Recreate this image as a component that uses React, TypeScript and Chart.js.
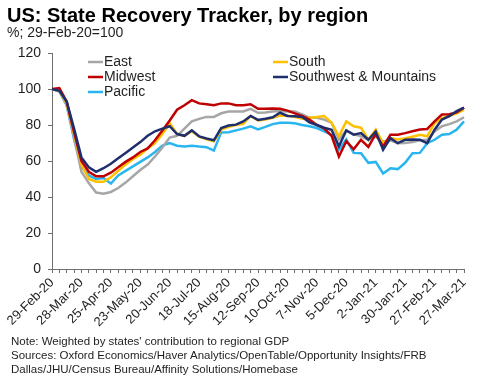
import React, { useEffect, useRef } from "react";
import { Chart, registerables } from "chart.js";

Chart.register(...registerables);

const FONT = "'Liberation Sans', Arial, Helvetica, sans-serif";
const TEXT = "#1f1f1f";
const AXIS = "#6f6f6f";

// weekly dates from 29-Feb-20 to 27-Mar-21
const MONTHS = ["Jan", "Feb", "Mar", "Apr", "May", "Jun", "Jul", "Aug", "Sep", "Oct", "Nov", "Dec"];
const WEEK_COUNT = 57;
const weekLabels: string[] = [];
for (let i = 0; i < WEEK_COUNT; i++) {
  const d = new Date(Date.UTC(2020, 1, 29) + i * 7 * 86400000);
  weekLabels.push(`${d.getUTCDate()}-${MONTHS[d.getUTCMonth()]}-${String(d.getUTCFullYear()).slice(2)}`);
}

const east = [100, 99, 91, 73, 54, 47.7, 42.5, 41.8, 42.8, 45, 48, 51.5, 55, 58, 62.5, 67.5, 73, 74, 78, 82, 83.4, 84.5, 84.5, 86.5, 87.5, 87.5, 87.5, 89, 86.8, 87, 87.5, 87.8, 87.5, 87.5, 85.9, 84.1, 84, 83, 81.3, 72, 77, 75, 73.7, 71.8, 73.5, 70.8, 71.5, 69.9, 70, 70.5, 71.5, 71.8, 76.4, 79.3, 80.5, 82, 84.3];
const midwest = [100, 100.5, 93, 76, 60, 54, 51.5, 51.5, 53.5, 56.5, 59.5, 62, 65, 67, 71.5, 77, 82.5, 88.5, 91, 93.8, 92, 91.5, 91, 92, 92, 91, 91, 91.5, 89, 89, 89.2, 89, 88, 86.5, 85, 83, 80, 78, 74, 62.5, 71, 66.5, 71.8, 67.8, 75, 68, 74.6, 74.6, 75.5, 76.5, 77.5, 77.8, 82, 85.8, 86, 87, 89.6];
const pacific = [100, 98.5, 91, 72, 57, 52, 50, 50.5, 47.5, 52, 54.5, 57, 59.5, 62, 65, 68.5, 70, 68.5, 68.1, 68.5, 68, 67.7, 65.8, 75.9, 76, 77, 78, 79.3, 77.5, 79, 80.5, 81.2, 81.3, 81, 80, 79.3, 78.3, 76.5, 74.5, 66.2, 72, 64.5, 64.3, 59, 59.5, 53.1, 55.9, 55.5, 59, 64.3, 64.5, 69.9, 71.8, 74.6, 75, 77.4, 82];
const south = [100, 99, 92, 75, 58, 50, 48.5, 48.5, 51, 54.5, 58, 61, 63.5, 67, 70, 75, 81, 75, 74, 76.5, 73.5, 72, 70.9, 77.5, 79, 80, 80.6, 85, 82.5, 83, 84, 85.2, 85.3, 84.5, 83.5, 84, 84.5, 85, 81.3, 73.7, 82, 79.3, 78.5, 71.8, 77.4, 69.9, 72.7, 72, 72.7, 73.5, 74.6, 73.7, 81, 83.8, 85, 86.5, 88.5];
const southwest = [100, 99, 93, 78, 62, 56.5, 54, 56, 58.5, 61.5, 64.5, 67.5, 70.5, 74, 76.5, 78, 79.3, 75, 74, 77, 73.7, 72.5, 71.5, 78.3, 79.7, 80.2, 82, 85, 82.8, 83.5, 84.3, 86.8, 85, 84.9, 84.5, 81.5, 80, 78.5, 77.4, 68.2, 77, 74.6, 75.5, 71.8, 76.4, 66.2, 72.7, 69.9, 71.8, 72, 71.8, 69.9, 77.4, 83, 84.9, 87.7, 89.6];

const seriesNames = ["East", "Midwest", "Pacific", "South", "Southwest & Mountains"];
const seriesColors = ["#A6A6A6", "#C00000", "#29B6F0", "#FFC000", "#1F2F6E"];
const seriesOrder = [3, 1, 4, 2, 0];

const title = "US: State Recovery Tracker, by region";
const subtitle = "%; 29-Feb-20=100";
const notes = [
  "Note: Weighted by states' contribution to regional GDP",
  "Sources: Oxford Economics/Haver Analytics/OpenTable/Opportunity Insights/FRB",
  "Dallas/JHU/Census Bureau/Affinity Solutions/Homebase",
];

// legend slots: [dataset index, x, y]
const legendSlots: [number, number, number][] = [
  [0, 88, 62],
  [1, 88, 77],
  [2, 88, 92],
  [3, 273, 62],
  [4, 273, 77],
];

const legendPlugin = {
  id: "twoColLegend",
  afterDraw(chart: any) {
    const ctx = chart.ctx;
    ctx.save();
    legendSlots.forEach(([idx, x, y]) => {
      const ds = chart.data.datasets[idx];
      ctx.strokeStyle = ds.borderColor;
      ctx.lineWidth = 2.5;
      ctx.beginPath();
      ctx.moveTo(x, y);
      ctx.lineTo(x + 15, y);
      ctx.stroke();
      ctx.fillStyle = TEXT;
      ctx.font = `14px ${FONT}`;
      ctx.textBaseline = "middle";
      ctx.textAlign = "left";
      ctx.fillText(ds.label, x + 16, y + 0.5);
    });
    ctx.restore();
  },
};

export default function App() {
  const ref = useRef<HTMLCanvasElement | null>(null);

  useEffect(() => {
    if (!ref.current) return;
    const values = [east, midwest, pacific, south, southwest];
    const chart = new Chart(ref.current, {
      type: "line",
      data: {
        labels: weekLabels,
        datasets: values.map((v, i) => ({
          label: seriesNames[i],
          data: v,
          borderColor: seriesColors[i],
          backgroundColor: seriesColors[i],
          borderWidth: 2.5,
          pointRadius: 0,
          tension: 0,
          fill: false,
          order: seriesOrder[i],
        })),
      },
      options: {
        responsive: false,
        animation: false,
        layout: { padding: { top: 53, right: 15, left: 0, bottom: 0 } },
        plugins: {
          legend: { display: false },
          tooltip: { enabled: false },
          title: { display: false },
        },
        scales: {
          x: {
            type: "category",
            offset: false,
            grid: { drawOnChartArea: false, drawTicks: true, tickLength: 4, color: AXIS },
            border: { color: AXIS, width: 1 },
            ticks: {
              autoSkip: false,
              maxRotation: 45,
              minRotation: 45,
              padding: 2,
              color: TEXT,
              font: { size: 13, family: FONT },
              callback: (_v: any, i: number) => (i % 4 === 0 ? weekLabels[i] : ""),
            },
            afterFit: (s: any) => {
              s.height = 111;
            },
          },
          y: {
            min: 0,
            max: 120,
            grid: { drawOnChartArea: false, drawTicks: true, tickLength: 4, color: AXIS },
            border: { color: AXIS, width: 1 },
            ticks: {
              stepSize: 20,
              padding: 7,
              color: TEXT,
              font: { size: 14, family: FONT },
            },
            afterFit: (s: any) => {
              s.width = 52;
            },
          },
        },
      },
      plugins: [legendPlugin],
    });
    return () => chart.destroy();
  }, []);

  return (
    <div
      style={{
        position: "absolute",
        left: 0,
        top: 0,
        width: 479,
        height: 380,
        background: "#fff",
        fontFamily: FONT,
        color: TEXT,
        overflow: "hidden",
      }}
    >
      <canvas ref={ref} width={479} height={380} style={{ position: "absolute", left: 0, top: 0, display: "block" }} />
      <div style={{ position: "absolute", left: 7, top: 5, fontSize: 20, lineHeight: "20px", fontWeight: "bold", color: "#000", whiteSpace: "nowrap" }}>
        {title}
      </div>
      <div style={{ position: "absolute", left: 7, top: 25, fontSize: 14, lineHeight: "14px", whiteSpace: "nowrap" }}>
        {subtitle}
      </div>
      <div style={{ position: "absolute", left: 11, top: 334, fontSize: 11.5, lineHeight: "14px", whiteSpace: "nowrap" }}>
        {notes.map((n, i) => (
          <div key={i}>{n}</div>
        ))}
      </div>
    </div>
  );
}
